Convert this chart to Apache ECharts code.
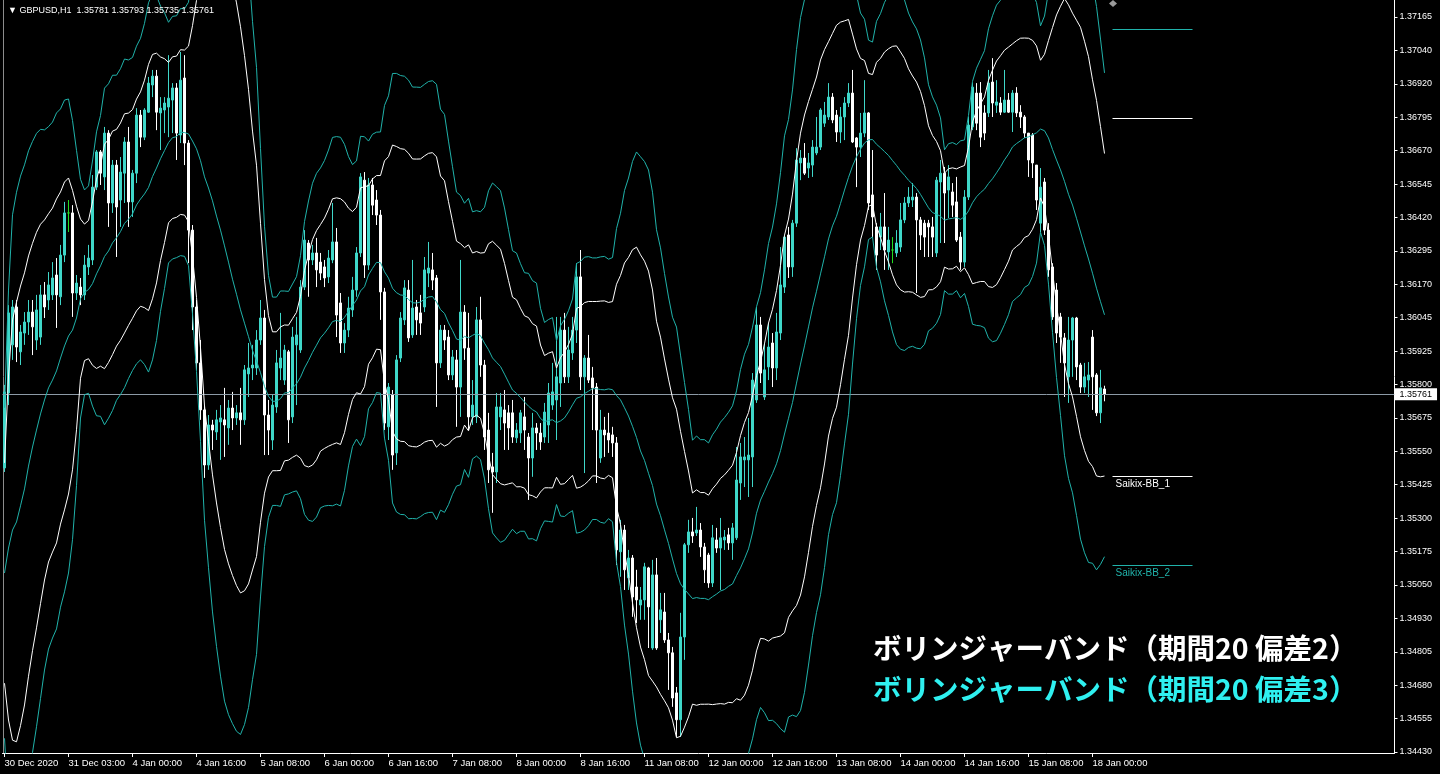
<!DOCTYPE html>
<html><head><meta charset="utf-8">
<script src="https://cdn.jsdelivr.net/npm/echarts@6/dist/echarts.min.js"></script>
<style>html,body{margin:0;padding:0;background:#000;overflow:hidden}#c{width:1440px;height:774px}</style>
</head><body><div id="c"></div>
<script>
// ---------- data (GBPUSD H1) ----------
const symbolName = 'GBPUSD,H1';
const opens = [
1.35487,1.35766,1.35945,1.36086,1.35919,1.35989,1.36030,1.36067,1.35963,1.35974,
1.36131,1.36112,1.36131,1.36205,1.36124,1.36279,1.36436,1.36436,1.36138,1.36160,
1.36131,1.36235,1.36261,1.36532,1.36663,1.36570,1.36733,1.36473,1.36614,1.36484,
1.36584,1.36700,1.36477,1.36584,1.36800,1.36718,1.36811,1.36912,1.36945,1.36808,
1.36819,1.36830,1.36856,1.36901,1.36726,1.36938,1.36696,1.36372,1.36086,1.35878,
1.35703,1.35498,1.35647,1.35621,1.35658,1.35666,1.35636,1.35710,1.35673,1.35692,
1.35666,1.35837,1.35859,1.35859,1.35963,1.36045,1.35684,1.35591,1.35714,1.35859,
1.35814,1.35919,1.35677,1.35945,1.35926,1.36160,1.36324,1.36261,1.36287,1.36253,
1.36235,1.36198,1.36261,1.36328,1.36101,1.35952,1.36000,1.36075,1.36149,1.36287,
1.36558,1.36242,1.36540,1.36484,1.36428,1.36142,1.35640,1.35759,1.35543,1.35896,
1.36038,1.36149,1.35982,1.36086,1.36064,1.36086,1.36212,1.36224,1.36194,1.35878,
1.36000,1.35974,1.35833,1.35889,1.35788,1.36067,1.35933,1.35677,1.35677,1.36038,
1.35870,1.35628,1.35491,1.35472,1.35677,1.35703,1.35692,1.35692,1.35599,1.35617,
1.35677,1.35602,1.35524,1.35636,1.35617,1.35602,1.35647,1.35721,1.35740,1.35803,
1.36000,1.35826,1.35915,1.36000,1.36198,1.35826,1.35896,1.35822,1.35788,1.35524,
1.35628,1.35617,1.35610,1.35580,1.35175,1.35256,1.35078,1.35152,1.35044,1.34977,
1.34996,1.35115,1.34817,1.35089,1.34922,1.34951,1.34847,1.34799,1.34650,1.34550,
1.34858,1.35201,1.35249,1.35245,1.35256,1.35193,1.35163,1.35059,1.35219,1.35189,
1.35219,1.35238,1.35208,1.35227,1.35431,1.35517,1.35517,1.35528,1.35740,1.36019,
1.35751,1.35863,1.35952,1.35859,1.35989,1.36160,1.36354,1.36235,1.36398,1.36622,
1.36640,1.36603,1.36614,1.36659,1.36681,1.36770,1.36793,1.36867,1.36800,1.36737,
1.36793,1.36845,1.36882,1.36715,1.36681,1.36733,1.36808,1.36503,1.36384,1.36346,
1.36384,1.36291,1.36298,1.36287,1.36309,1.36410,1.36473,1.36484,1.36495,1.36410,
1.36398,1.36398,1.36384,1.36287,1.36551,1.36584,1.36521,1.36514,1.36477,1.36346,
1.36253,1.36495,1.36756,1.36882,1.36882,1.36808,1.36808,1.36923,1.36837,1.36845,
1.36811,1.36856,1.36811,1.36882,1.36811,1.36793,1.36733,1.36726,1.36614,1.36398,
1.36551,1.36372,1.36235,1.36149,1.36049,1.35971,1.35826,1.35963,1.36045,1.35870,
1.35788,1.35814,1.35974,1.35833,1.35692,1.35781];
const closes = [
1.35770,1.36064,1.36086,1.35937,1.35993,1.36030,1.36067,1.36012,1.36075,1.36131,
1.36086,1.36168,1.36194,1.36131,1.36279,1.36436,1.36436,1.36138,1.36175,1.36131,
1.36242,1.36268,1.36532,1.36663,1.36584,1.36733,1.36473,1.36614,1.36458,1.36588,
1.36700,1.36477,1.36584,1.36800,1.36718,1.36819,1.36919,1.36945,1.36811,1.36826,
1.36845,1.36863,1.36901,1.36733,1.36930,1.36696,1.36372,1.36086,1.35878,1.35703,
1.35498,1.35647,1.35628,1.35666,1.35673,1.35647,1.35710,1.35673,1.35692,1.35666,
1.35852,1.35859,1.35870,1.35963,1.36045,1.35684,1.35628,1.35721,1.35878,1.35896,
1.35926,1.35666,1.35974,1.35982,1.36160,1.36335,1.36261,1.36287,1.36224,1.36212,
1.36194,1.36268,1.36328,1.36056,1.35952,1.36000,1.36082,1.36149,1.36287,1.36570,
1.36242,1.36540,1.36465,1.36428,1.36142,1.35654,1.35788,1.35535,1.35889,1.36045,
1.36157,1.35971,1.36082,1.36038,1.36026,1.36224,1.36231,1.36186,1.35878,1.36000,
1.35963,1.35833,1.35900,1.35788,1.36067,1.35933,1.35677,1.35721,1.36038,1.35870,
1.35602,1.35480,1.35472,1.35714,1.35714,1.35654,1.35636,1.35602,1.35628,1.35692,
1.35628,1.35524,1.35636,1.35617,1.35584,1.35695,1.35766,1.35770,1.35826,1.36000,
1.35826,1.35926,1.36000,1.36198,1.35826,1.35896,1.35814,1.35785,1.35628,1.35628,
1.35610,1.35591,1.35580,1.35182,1.35256,1.35108,1.35152,1.35007,1.34996,1.34996,
1.35119,1.34970,1.35089,1.34817,1.34959,1.34847,1.34799,1.34631,1.34550,1.34858,
1.35201,1.35249,1.35234,1.35256,1.35193,1.35108,1.35059,1.35227,1.35189,1.35227,
1.35230,1.35208,1.35264,1.35442,1.35528,1.35528,1.35535,1.35814,1.36019,1.35840,
1.35852,1.35937,1.35859,1.35993,1.36168,1.36346,1.36235,1.36398,1.36633,1.36640,
1.36584,1.36622,1.36681,1.36681,1.36819,1.36800,1.36867,1.36782,1.36737,1.36793,
1.36845,1.36882,1.36700,1.36681,1.36733,1.36808,1.36473,1.36421,1.36279,1.36384,
1.36298,1.36335,1.36298,1.36324,1.36410,1.36473,1.36495,1.36495,1.36410,1.36354,
1.36346,1.36384,1.36346,1.36558,1.36584,1.36510,1.36570,1.36465,1.36335,1.36253,
1.36495,1.36763,1.36904,1.36770,1.36718,1.36733,1.36919,1.36845,1.36849,1.36811,
1.36856,1.36811,1.36882,1.36808,1.36793,1.36733,1.36633,1.36622,1.36484,1.36532,
1.36372,1.36224,1.36049,1.35989,1.35974,1.35878,1.35963,1.36045,1.35863,1.35788,
1.35826,1.35833,1.35826,1.35692,1.35785,1.35761];
const highs = [
1.35796,1.36093,1.36112,1.36112,1.36019,1.36067,1.36112,1.36112,1.36131,1.36168,
1.36179,1.36216,1.36253,1.36268,1.36317,1.36477,1.36484,1.36465,1.36205,1.36194,
1.36279,1.36317,1.36577,1.36670,1.36670,1.36756,1.36744,1.36633,1.36633,1.36644,
1.36718,1.36756,1.36596,1.36826,1.36819,1.36826,1.36942,1.36968,1.36968,1.36867,
1.36867,1.37023,1.36919,1.36919,1.37035,1.37023,1.36707,1.36391,1.36112,1.35963,
1.35721,1.35684,1.35666,1.35703,1.35721,1.35785,1.35740,1.35770,1.35721,1.35785,
1.35870,1.35952,1.35945,1.36000,1.36112,1.36075,1.35740,1.35759,1.35926,1.36064,
1.35945,1.35926,1.36012,1.36049,1.36186,1.36372,1.36335,1.36317,1.36343,1.36287,
1.36261,1.36298,1.36473,1.36380,1.36138,1.36026,1.36124,1.36198,1.36309,1.36584,
1.36588,1.36566,1.36566,1.36521,1.36447,1.36157,1.35803,1.35777,1.35907,1.36067,
1.36186,1.36186,1.36261,1.36112,1.36131,1.36272,1.36328,1.36287,1.36205,1.36019,
1.36019,1.36000,1.35926,1.35926,1.36261,1.36093,1.36064,1.35814,1.36086,1.36124,
1.35889,1.35692,1.35543,1.35766,1.35766,1.35777,1.35721,1.35740,1.35654,1.35703,
1.35751,1.35617,1.35692,1.35654,1.35654,1.35729,1.35803,1.35878,1.36049,1.36049,
1.36064,1.36012,1.36049,1.36249,1.36298,1.35907,1.35982,1.35863,1.35803,1.35703,
1.35677,1.35692,1.35640,1.35602,1.35294,1.35275,1.35182,1.35163,1.35108,1.35044,
1.35134,1.35119,1.35145,1.35152,1.35022,1.35022,1.34873,1.34821,1.34672,1.34948,
1.35208,1.35294,1.35301,1.35342,1.35282,1.35208,1.35171,1.35275,1.35264,1.35301,
1.35256,1.35264,1.35282,1.35565,1.35580,1.35602,1.35673,1.35840,1.36086,1.36049,
1.35952,1.36026,1.35989,1.36064,1.36309,1.36354,1.36384,1.36410,1.36677,1.36670,
1.36696,1.36659,1.36707,1.36793,1.36826,1.36849,1.36919,1.36882,1.36819,1.36830,
1.36867,1.36919,1.36968,1.36718,1.36808,1.36930,1.36811,1.36670,1.36398,1.36436,
1.36510,1.36384,1.36346,1.36372,1.36473,1.36495,1.36532,1.36547,1.36510,1.36421,
1.36410,1.36410,1.36421,1.36570,1.36633,1.36607,1.36614,1.36547,1.36570,1.36365,
1.36521,1.36793,1.36919,1.36919,1.36923,1.36837,1.36968,1.37012,1.36930,1.36867,
1.36968,1.36882,1.36893,1.36904,1.36837,1.36800,1.36733,1.36733,1.36614,1.36603,
1.36566,1.36398,1.36249,1.36175,1.36064,1.35989,1.36049,1.36049,1.36049,1.35878,
1.35878,1.35881,1.36000,1.35840,1.35852,1.35793];
const lows = [
1.35472,1.35721,1.35889,1.35881,1.35870,1.35945,1.35982,1.35907,1.35926,1.35945,
1.36045,1.36075,1.36112,1.36008,1.36093,1.36253,1.36365,1.36049,1.36112,1.36093,
1.36112,1.36205,1.36242,1.36521,1.36540,1.36521,1.36384,1.36436,1.36272,1.36384,
1.36473,1.36384,1.36421,1.36547,1.36681,1.36707,1.36808,1.36867,1.36744,1.36670,
1.36733,1.36718,1.36733,1.36633,1.36696,1.36614,1.36249,1.36000,1.35852,1.35666,
1.35450,1.35480,1.35554,1.35591,1.35517,1.35528,1.35573,1.35628,1.35647,1.35573,
1.35647,1.35751,1.35814,1.35833,1.35945,1.35535,1.35535,1.35554,1.35692,1.35814,
1.35796,1.35580,1.35654,1.35721,1.35915,1.36149,1.36124,1.36242,1.36160,1.36186,
1.36160,1.36175,1.36249,1.35974,1.35915,1.35915,1.35974,1.36049,1.36124,1.36272,
1.36194,1.36224,1.36428,1.36391,1.36038,1.35628,1.35591,1.35480,1.35498,1.35881,
1.36019,1.35956,1.35971,1.35982,1.35982,1.36067,1.36160,1.36149,1.35714,1.35859,
1.35926,1.35814,1.35814,1.35640,1.35677,1.35889,1.35628,1.35647,1.35654,1.35826,
1.35554,1.35431,1.35320,1.35431,1.35628,1.35554,1.35554,1.35580,1.35580,1.35580,
1.35554,1.35368,1.35454,1.35554,1.35554,1.35580,1.35580,1.35703,1.35591,1.35714,
1.35803,1.35803,1.35889,1.35952,1.35777,1.35468,1.35803,1.35628,1.35431,1.35506,
1.35528,1.35543,1.35528,1.35126,1.35082,1.35033,1.35033,1.34933,1.34910,1.34922,
1.34922,1.34817,1.34810,1.34810,1.34873,1.34836,1.34661,1.34598,1.34486,1.34486,
1.34773,1.35171,1.35208,1.35234,1.35156,1.35059,1.35041,1.35044,1.35171,1.35033,
1.35182,1.35182,1.35145,1.35219,1.35368,1.35416,1.35379,1.35416,1.35729,1.35803,
1.35740,1.35814,1.35788,1.35814,1.35963,1.36138,1.36194,1.36198,1.36384,1.36558,
1.36577,1.36566,1.36570,1.36651,1.36670,1.36756,1.36782,1.36770,1.36700,1.36696,
1.36707,1.36830,1.36696,1.36532,1.36644,1.36718,1.36447,1.36346,1.36224,1.36298,
1.36224,1.36224,1.36249,1.36272,1.36291,1.36398,1.36458,1.36458,1.36138,1.36298,
1.36272,1.36272,1.36272,1.36272,1.36324,1.36324,1.36417,1.36421,1.36328,1.36224,
1.36235,1.36484,1.36744,1.36744,1.36681,1.36707,1.36793,1.36793,1.36808,1.36800,
1.36808,1.36808,1.36737,1.36793,1.36752,1.36715,1.36570,1.36566,1.36447,1.36365,
1.36354,1.36198,1.36038,1.35952,1.35878,1.35751,1.35729,1.35826,1.35814,1.35766,
1.35766,1.35751,1.35703,1.35680,1.35654,1.35735];

// Band centre and standard deviation for the first 19 bars
// (their 20-bar window reaches back before the first visible bar).
const earlyMid = [1.35096,1.35189,1.35256,1.35286,1.35346,1.35409,1.35494,1.35565,1.35628,1.35688,
  1.35740,1.35785,1.35814,1.35848,1.35896,1.35941,1.35978,1.36000,1.36045];
const earlySigma = [0.00205,0.00320,0.00391,0.00409,0.00409,0.00402,0.00391,0.00379,0.00368,0.00353,
  0.00335,0.00324,0.00320,0.00320,0.00309,0.00305,0.00294,0.00260,0.00208];

// time-axis labels: bar index -> text
const xLabelIndex = [0,16,32,48,64,80,96,112,128,144,160,176,192,208,224,240,256,272];
const xLabelText = ['30 Dec 2020','31 Dec 03:00','4 Jan 00:00','4 Jan 16:00','5 Jan 08:00','6 Jan 00:00',
  '6 Jan 16:00','7 Jan 08:00','8 Jan 00:00','8 Jan 16:00','11 Jan 08:00','12 Jan 00:00',
  '12 Jan 16:00','13 Jan 08:00','14 Jan 00:00','14 Jan 16:00','15 Jan 08:00','18 Jan 00:00'];
// price-axis tick labels (bottom to top)
const yTickLabels = ['1.34430','1.34555','1.34680','1.34805','1.34930','1.35050','1.35175','1.35300',
  '1.35425','1.35550','1.35675','1.35800','1.35925','1.36045','1.36170','1.36295','1.36420',
  '1.36545','1.36670','1.36795','1.36920','1.37040','1.37165'];
const yMin = 1.344263, yMax = 1.372283;
// indicator settings
const bbPeriod = 20;
const bbDevInner = 2, bbDevOuter = 3;
// indicator end-labels (price levels in the right margin)
const endLabelLevels = [1.37120, 1.36789, 1.35457, 1.35126];
const endLabelNames  = ['', '', 'Saikix-BB_1', 'Saikix-BB_2'];
const endLabelKinds  = ['outer', 'inner', 'inner', 'outer'];
const titleLine1 = 'ボリンジャーバンド（期間20 偏差2）';
const titleLine2 = 'ボリンジャーバンド（期間20 偏差3）';

// ---------- build ----------
const WHITE = '#ffffff', TURQ = '#3fd7c9', SEA = '#20b2aa', DOJI = '#22dd22';
const nBars = closes.length;
const nSlots = 348;
const cats = Array.from({length: nSlots}, (_, i) => String(i));
const candleData = opens.map((o, i) => {
  const it = {value: [o, closes[i], lows[i], highs[i]]};
  if (o === closes[i]) it.itemStyle = {color: DOJI, color0: DOJI, borderColor: DOJI, borderColor0: DOJI};
  return it;
});
const mid = [], upIn = [], loIn = [], upOut = [], loOut = [];
for (let i = 0; i < nBars; i++) {
  let m, sd;
  if (i < bbPeriod - 1) { m = earlyMid[i]; sd = earlySigma[i]; }
  else {
    let s = 0; for (let j = i - bbPeriod + 1; j <= i; j++) s += closes[j];
    m = s / bbPeriod;
    let v = 0; for (let j = i - bbPeriod + 1; j <= i; j++) v += (closes[j] - m) ** 2;
    sd = Math.sqrt(v / bbPeriod);
  }
  mid.push(m); upIn.push(m + bbDevInner * sd); loIn.push(m - bbDevInner * sd);
  upOut.push(m + bbDevOuter * sd); loOut.push(m - bbDevOuter * sd);
}
const yStep = (parseFloat(yTickLabels[yTickLabels.length - 1]) - parseFloat(yTickLabels[0])) / (yTickLabels.length - 1);
const yTickValues = yTickLabels.map((_, i) => parseFloat(yTickLabels[0]) + i * yStep);
const last = nBars - 1;
const f5 = v => v.toFixed(5);

function lineSeries(name, data, color, extra) {
  return Object.assign({type: 'line', name, data, showSymbol: false, symbol: 'none', z: 5,
    lineStyle: {color, width: 1}, silent: true, animation: false, connectNulls: false}, extra || {});
}

const endMark = endLabelLevels.map((lv, i) => {
  const col = endLabelKinds[i] === 'inner' ? WHITE : SEA;
  return [
    {coord: [277, lv], lineStyle: {color: col, width: 1, type: 'solid'},
     label: {show: !!endLabelNames[i], formatter: endLabelNames[i], position: 'insideStartBottom',
       color: col, fontSize: 10, fontFamily: 'Liberation Sans', distance: [3, 3]}},
    {coord: [297, lv]}
  ];
});

const chart = echarts.init(document.getElementById('c'), null, {renderer: 'canvas'});
chart.setOption({
  backgroundColor: '#000000',
  animation: false,
  textStyle: {fontFamily: 'Liberation Sans'},
  title: {text: '\u25BC ' + symbolName + '  ' + [opens[last], highs[last], lows[last], closes[last]].map(f5).join(' '),
    left: 3, top: 1, textStyle: {color: WHITE, fontSize: 9, fontWeight: 'normal', fontFamily: 'Liberation Sans'}},
  grid: {left: 2.5, top: 0, width: 4 * nSlots, height: 753, containLabel: false},
  xAxis: {type: 'category', data: cats, boundaryGap: true,
    axisLine: {show: true, lineStyle: {color: WHITE, width: 1}},
    axisTick: {show: true, alignWithLabel: true, length: 4, lineStyle: {color: WHITE},
      interval: (idx) => xLabelIndex.includes(idx)},
    axisLabel: {show: true, color: WHITE, fontSize: 9.5, align: 'left', margin: 5,
      interval: (idx) => xLabelIndex.includes(idx),
      formatter: (val, idx) => { const k = xLabelIndex.indexOf(Number(val)); return k >= 0 ? xLabelText[k] : ''; }},
    splitLine: {show: false}},
  yAxis: {type: 'value', position: 'right', min: yMin, max: yMax, scale: true,
    axisLine: {show: true, lineStyle: {color: WHITE, width: 1}},
    axisTick: {show: true, length: 3, lineStyle: {color: WHITE}, customValues: yTickValues},
    axisLabel: {show: true, color: WHITE, fontSize: 9, margin: 5, customValues: yTickValues,
      formatter: (v) => yTickLabels[Math.round((v - yTickValues[0]) / yStep)]},
    splitLine: {show: false}},
  graphic: [
    {type: 'line', shape: {x1: 3.5, y1: 0, x2: 3.5, y2: 753}, style: {stroke: '#8c8c8c', lineWidth: 1}, z: 1},
    {type: 'polygon', shape: {points: [[1113, 0], [1117, 3.5], [1113, 7], [1109, 3.5]]}, style: {fill: '#9a9a9a'}},
    {type: 'text', left: 873, top: 634, z: 100, style: {text: titleLine1, fill: WHITE, font: 'bold 28.5px "Noto Sans CJK JP"'}},
    {type: 'text', left: 873, top: 675, z: 100, style: {text: titleLine2, fill: '#2ff0f0', font: 'bold 28.5px "Noto Sans CJK JP"'}}
  ],
  series: [
    {type: 'candlestick', name: 'price', data: candleData, barWidth: 2, z: 3,
      itemStyle: {color: TURQ, color0: WHITE, borderColor: TURQ, borderColor0: WHITE, borderWidth: 1}},
    lineSeries('mid', mid, SEA, {
      markLine: {silent: true, symbol: 'none', animation: false, z: 4, precision: 5,
        data: [
          {yAxis: closes[last], lineStyle: {color: '#8c9aa6', width: 1, type: 'solid'},
           label: {show: true, position: 'end', formatter: f5(closes[last]), color: '#000', backgroundColor: '#fff',
             fontSize: 9, padding: [2, 5, 1, 5], distance: 0}},
          ...endMark
        ]}}),
    lineSeries('upIn', upIn, WHITE),
    lineSeries('loIn', loIn, WHITE),
    lineSeries('upOut', upOut, SEA),
    lineSeries('loOut', loOut, SEA)
  ]
});
</script></body></html>
